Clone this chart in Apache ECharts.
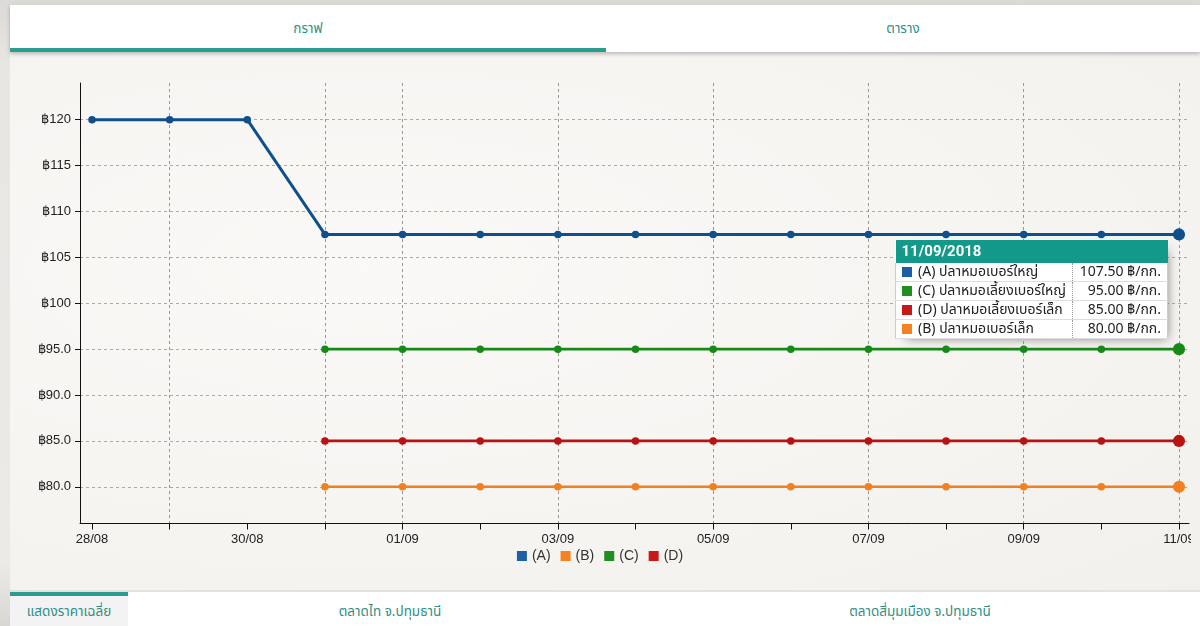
<!DOCTYPE html>
<html>
<head>
<meta charset="utf-8">
<script src="https://cdn.jsdelivr.net/npm/echarts@6/dist/echarts.min.js"></script>
<style>
  html,body{margin:0;padding:0;}
  body{width:1200px;height:626px;overflow:hidden;position:relative;
    background:linear-gradient(180deg,#dcdad6 0%,#e8e6e3 10%,#eceae7 90%,#d9d7d3 100%);
    font-family:"Noto Sans Thai","Noto Sans","DejaVu Sans",sans-serif;}
  #panel{position:absolute;left:10px;top:52px;width:1190px;height:538px;
    background:radial-gradient(ellipse at 30% 40%,#faf9f7 0%,#f6f5f2 50%,#f1f0ec 100%);}
  #tabs{position:absolute;left:10px;top:5px;width:1190px;height:47px;background:#fff;
    box-shadow:0 2px 4px rgba(0,0,0,0.25);}
  .tab{position:absolute;top:0;height:47px;line-height:49px;text-align:center;font-size:13.5px;color:#2f8f86;}
  #t1{left:0;width:596px;}
  #t1:after{content:"";position:absolute;left:0;right:0;bottom:0;height:4px;background:#2a9d90;}
  #t2{left:596px;width:594px;}
  #wrap{position:absolute;left:0;top:60px;width:1191px;height:530px;overflow:hidden;}
  #chart{width:1200px;height:530px;}
  #btabs{position:absolute;left:10px;top:592px;width:1190px;height:34px;background:#fff;}
  .bt{position:absolute;top:0;height:34px;line-height:40px;font-size:13.5px;color:#2f8f86;text-align:center;}
  #b1{left:0;width:118px;background:#f3f3f3;}
  #b1:before{content:"";position:absolute;left:0;right:0;top:0;height:4px;background:#2a9d90;}
  #b2{left:280px;width:200px;}
  #b3{left:800px;width:220px;}
  .tip{border-collapse:collapse;background:#fff;font-family:'Noto Sans Thai','Noto Sans',sans-serif;font-size:14px;color:#222;width:273px;line-height:18px;}
  .tip th{background:#13998a;color:#fff;text-align:left;font-weight:bold;font-size:15px;padding:0 6px;height:23px;line-height:23px;font-family:Roboto,sans-serif;}
  .tip td{padding:0 6px;height:18px;line-height:18px;white-space:nowrap;border-bottom:1px solid #ddd;}
  .tip td.n{border-left:1px solid #ccc;}
  .tip td.v{text-align:right;border-left:1px dotted #999;border-right:1px solid #ccc;}
  .tip span.k{display:inline-block;width:10px;height:10px;margin-right:6px;vertical-align:-1px;}
</style>
</head>
<body>
<div id="panel"></div>
<div id="tabs"><div class="tab" id="t1">กราฟ</div><div class="tab" id="t2">ตาราง</div></div>
<div id="wrap"><div id="chart"></div></div>
<div id="btabs">
  <div class="bt" id="b1">แสดงราคาเฉลี่ย</div>
  <div class="bt" id="b2">ตลาดไท จ.ปทุมธานี</div>
  <div class="bt" id="b3">ตลาดสี่มุมเมือง จ.ปทุมธานี</div>
</div>
<script>
// ---- data ----
const year = "2018";
const dates = ["28/08","29/08","30/08","31/08","01/09","02/09","03/09","04/09","05/09","06/09","07/09","08/09","09/09","10/09","11/09"];
const seriesCodes = ["(A)","(B)","(C)","(D)"];
const seriesNames = ["ปลาหมอเบอร์ใหญ่","ปลาหมอเบอร์เล็ก","ปลาหมอเลี้ยงเบอร์ใหญ่","ปลาหมอเลี้ยงเบอร์เล็ก"];
const valuesA = [120,120,120,107.5,107.5,107.5,107.5,107.5,107.5,107.5,107.5,107.5,107.5,107.5,107.5];
const valuesB = [null,null,null,80,80,80,80,80,80,80,80,80,80,80,80];
const valuesC = [null,null,null,95,95,95,95,95,95,95,95,95,95,95,95];
const valuesD = [null,null,null,85,85,85,85,85,85,85,85,85,85,85,85];
const yTickValues = [80,85,90,95,100,105,110,115,120];
const yTickLabels = ["฿80.0","฿85.0","฿90.0","฿95.0","฿100","฿105","฿110","฿115","฿120"];
const unit = " ฿/กก.";

// ---- styles ----
const lineColors = ["#0f4f8c","#f08020","#168a16","#b81212"];
const keyColors = ["#1a5fa8","#f58220","#1f8f1f","#c81818"];
const allValues = [valuesA,valuesB,valuesC,valuesD];
const gridIdx = new Set([1,3,4,6,8,10,12,14]);
const hoverIndex = dates.length - 1;

const chart = echarts.init(document.getElementById('chart'), null, {renderer:'canvas'});
const axisFont = {fontFamily:'"Liberation Sans",Arial,sans-serif',fontSize:13,color:'#222'};

const series = allValues.map((vals,i)=>({
  name: seriesCodes[i],
  type:'line',
  xAxisIndex:0, yAxisIndex:0,
  data: vals,
  connectNulls:false,
  symbol:'circle',
  symbolSize:(v,p)=> p.dataIndex===hoverIndex ? 11 : 7.5,
  showSymbol:true,
  lineStyle:{color:lineColors[i],width:i===0?3:2.6},
  itemStyle:{color:lineColors[i]},
  emphasis:{disabled:true},
  z:10-i
}));

function tipHtml(idx){
  const rows = allValues.map((v,i)=>({i,v:v[idx]})).filter(r=>r.v!=null).sort((a,b)=>b.v-a.v);
  let h = '<table class="tip">';
  h += '<tr><th colspan="2">'+dates[idx]+'/'+year+'</th></tr>';
  rows.forEach(r=>{
    h += '<tr><td class="n"><span class="k" style="background:'+keyColors[r.i]+'"></span>'+seriesCodes[r.i]+' '+seriesNames[r.i]+'</td>'+
      '<td class="v">'+r.v.toFixed(2)+unit+'</td></tr>';
  });
  h += '</table>';
  return h;
}

const option = {
  animation:false,
  grid:[
    {left:92, top:23, width:1087, height:440.5, containLabel:false},
    {left:80, top:23, width:1109, height:440.5, containLabel:false}
  ],
  xAxis:[
    {type:'category', gridIndex:0, data:dates, boundaryGap:false,
     axisLine:{show:false},
     axisTick:{show:true, interval:0, length:6, lineStyle:{color:'#111'}},
     axisLabel:{interval:(i)=>i%2===0, margin:9, ...axisFont},
     splitLine:{show:true, interval:(i)=>gridIdx.has(i), lineStyle:{color:'#999',type:[3,3],width:1}}
    },
    {type:'value', gridIndex:1, min:0, max:1,
     axisLine:{show:true, onZero:false, lineStyle:{color:'#111',width:1}},
     axisTick:{show:false}, axisLabel:{show:false}, splitLine:{show:false}}
  ],
  yAxis:[
    {type:'value', gridIndex:0, min:76, max:124, show:false, splitLine:{show:false}},
    {type:'value', gridIndex:1, min:76, max:124,
     axisLine:{show:true, lineStyle:{color:'#111',width:1}},
     axisTick:{show:true, length:5, customValues:yTickValues, lineStyle:{color:'#111'}},
     axisLabel:{customValues:yTickValues, margin:9,
       formatter:(v)=>{const k=yTickValues.indexOf(v);return k>=0?yTickLabels[k]:'';}, ...axisFont},
     splitLine:{show:true, customValues:yTickValues, lineStyle:{color:'#aaa',type:[3,3],width:1}}
    }
  ],
  legend:{
    top:484, left:'center', icon:'rect', itemWidth:10, itemHeight:10, itemGap:10,
    textStyle:{fontFamily:'"Liberation Sans",Arial,sans-serif',fontSize:14,color:'#333',padding:[0,0,0,0]},
    data: seriesCodes.map((c,i)=>({name:c, itemStyle:{color:keyColors[i]}}))
  },
  tooltip:{
    trigger:'axis', triggerOn:'none', alwaysShowContent:true,
    axisPointer:{type:'none'},
    position:[895,180],
    padding:0, borderWidth:0, backgroundColor:'transparent',
    extraCssText:'box-shadow:5px 5px 10px -6px #777;border-radius:0;',
    formatter:(params)=>tipHtml(params[0].dataIndex)
  },
  series: series
};
chart.setOption(option);
chart.dispatchAction({type:'showTip', seriesIndex:0, dataIndex:hoverIndex});
</script>
</body>
</html>
